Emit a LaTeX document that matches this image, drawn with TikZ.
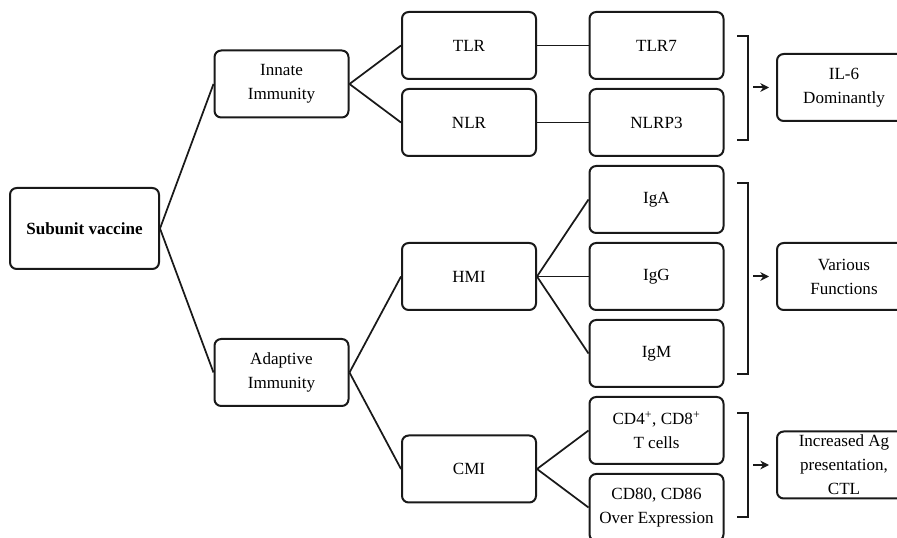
\documentclass[tikz,border=0pt]{standalone}
\usepackage{fontspec}
\setmainfont{Liberation Serif}
\usetikzlibrary{arrows.meta}
\begin{document}
\begin{tikzpicture}[x=0.75pt,y=-0.75pt,
  box/.style={draw=black!90,line width=1.5pt,rounded corners=5pt,minimum width=100.5pt,minimum height=50.25pt,align=center,inner sep=1pt,font=\fontsize{12.8pt}{18pt}\selectfont},
  link/.style={draw=black!90,line width=1.3pt},
  brk/.style={draw=black!90,line width=1.3pt},
  arr/.style={draw=black!90,line width=1.5pt,-{Stealth[length=6.5pt,width=6.5pt]},shorten >=5.25pt}]
\useasboundingbox (0,0) rectangle (897,538);
\clip (0,0) rectangle (897,538);
% nodes
\node[box,minimum width=111.75pt,minimum height=60.75pt,font=\fontsize{12.8pt}{18pt}\selectfont\bfseries] (sv) at (84.5,228.5) {Subunit vaccine};
\node[box] (inn) at (281.5,84) {Innate\\Immunity};
\node[box] (ada) at (281.5,372.5) {Adaptive\\Immunity};
\node[box] (tlr) at (469,45.5) {TLR};
\node[box] (nlr) at (469,122.5) {NLR};
\node[box] (hmi) at (469,276.5) {HMI};
\node[box] (cmi) at (469,469) {CMI};
\node[box] (tlr7) at (656.5,45.5) {TLR7};
\node[box] (nlrp3) at (656.5,122.5) {NLRP3};
\node[box] (iga) at (656.5,199.5) {IgA};
\node[box] (igg) at (656.5,276.5) {IgG};
\node[box] (igm) at (656.5,353.5) {IgM};
\node[box] (cd4) at (656.5,430.5) {CD4\textsuperscript{+}, CD8\textsuperscript{+}\\T cells};
\node[box] (cd80) at (656.5,507.5) {CD80, CD86\\Over Expression};
\node[box] (il6) at (844,87.5) {IL-6\\Dominantly};
\node[box] (var) at (844,276.5) {Various\\Functions};
\node[box] (ctl) at (844,465) {Increased Ag\\presentation,\\CTL};
% connectors
\draw[link] (sv.east) -- (inn.west);
\draw[link] (sv.east) -- (ada.west);
\draw[link] (inn.east) -- (tlr.west);
\draw[link] (inn.east) -- (nlr.west);
\draw[link] (ada.east) -- (hmi.west);
\draw[link] (ada.east) -- (cmi.west);
\draw[link] (tlr.east) -- (tlr7.west);
\draw[link] (nlr.east) -- (nlrp3.west);
\draw[link] (hmi.east) -- (iga.west);
\draw[link] (hmi.east) -- (igg.west);
\draw[link] (hmi.east) -- (igm.west);
\draw[link] (cmi.east) -- (cd4.west);
\draw[link] (cmi.east) -- (cd80.west);
% brackets
\draw[brk] (737,36) -- (748,36) -- (748,140) -- (737,140);
\draw[brk] (737,183) -- (748,183) -- (748,374) -- (737,374);
\draw[brk] (737,413) -- (748,413) -- (748,517) -- (737,517);
\coordinate (b1) at (753,87.5);
\coordinate (b2) at (753,276.5);
\coordinate (b3) at (753,465);
\draw[arr] (b1) -- (il6.west);
\draw[arr] (b2) -- (var.west);
\draw[arr] (b3) -- (ctl.west);
\end{tikzpicture}
\end{document}
